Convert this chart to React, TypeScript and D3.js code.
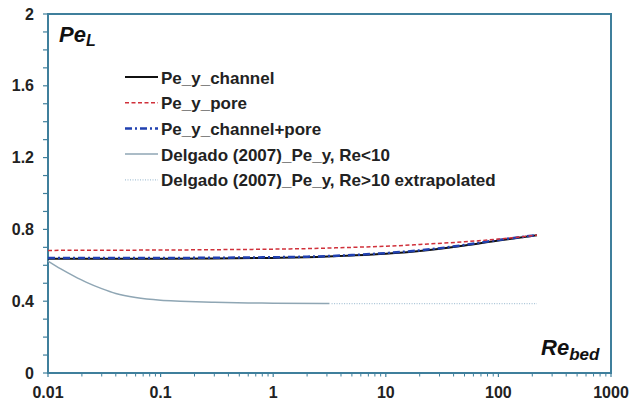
import React from "react";
import * as d3 from "d3";

const reChannel = [0.01, 0.03, 0.1, 0.3, 1, 2, 5, 10, 20, 50, 100, 220];
const peChannel = [0.637, 0.637, 0.637, 0.638, 0.641, 0.645, 0.655, 0.665, 0.68, 0.71, 0.738, 0.767];
const pePore = [0.683, 0.684, 0.685, 0.687, 0.69, 0.693, 0.7, 0.706, 0.716, 0.731, 0.746, 0.768];
const peChannelPore = [0.641, 0.641, 0.641, 0.642, 0.645, 0.648, 0.657, 0.668, 0.683, 0.713, 0.741, 0.768];

const reDelgado = [0.01, 0.013, 0.017, 0.022, 0.03, 0.04, 0.06, 0.1, 0.15, 0.3, 0.6, 1, 3.16];
const peDelgado = [0.624, 0.58, 0.54, 0.505, 0.47, 0.443, 0.42, 0.405, 0.4, 0.394, 0.39, 0.389, 0.387];
const reDelgadoExt = [3.3, 220];
const peDelgadoExt = [0.387, 0.387];

const yTicks = [0, 0.4, 0.8, 1.2, 1.6, 2];
const xTicks = [0.01, 0.1, 1, 10, 100, 1000];
const xTickLabels = ["0.01", "0.1", "1", "10", "100", "1000"];

const legendLabels = [
  "Pe_y_channel",
  "Pe_y_pore",
  "Pe_y_channel+pore",
  "Delgado (2007)_Pe_y, Re<10",
  "Delgado (2007)_Pe_y, Re>10 extrapolated",
];

const AXIS = "#3f7f9c";
const TEXT = "#222";

export default function App() {
  const L = 48, R = 611, T = 14, B = 373;
  const x = d3.scaleLog().domain([0.01, 1000]).range([L, R]);
  const y = d3.scaleLinear().domain([0, 2]).range([B, T]);
  const line = d3
    .line<[number, number]>()
    .x((d) => x(d[0]))
    .y((d) => y(d[1]))
    .curve(d3.curveMonotoneX);

  const zip = (a: number[], b: number[]) => a.map((v, i) => [v, b[i]] as [number, number]);

  const styles = [
    { stroke: "#111", width: 2, dash: undefined as string | undefined },
    { stroke: "#d0303a", width: 1.5, dash: "4,2.5" },
    { stroke: "#2040b0", width: 2.5, dash: "7,3,2,3" },
    { stroke: "#8fa6b4", width: 1.5, dash: undefined },
    { stroke: "#a9c4d6", width: 1.3, dash: "1,1.5" },
  ];

  const series = [
    zip(reChannel, peChannelPore),
    zip(reChannel, pePore),
    zip(reChannel, peChannel),
  ];

  const minorX: number[] = [];
  for (let e = -2; e < 3; e++) {
    for (let k = 2; k <= 9; k++) minorX.push(k * Math.pow(10, e));
  }
  const minorY = d3.range(0, 2.0001, 0.1);

  const font = "Arial, 'Liberation Sans', sans-serif";

  return (
    <svg width={631} height={406} style={{ position: "absolute", left: 0, top: 0, background: "#fff" }}>
      <rect x={0} y={0} width={631} height={406} fill="#fff" />
      {/* frame */}
      <rect x={L} y={T} width={R - L} height={B - T} fill="none" stroke={AXIS} strokeWidth={2} />
      {/* y ticks */}
      {minorY.map((v, i) => (
        <line key={"yt" + i} x1={L - 5} x2={L} y1={y(v)} y2={y(v)} stroke={AXIS} strokeWidth={1.2} />
      ))}
      {yTicks.map((v, i) => (
        <text key={"yl" + i} x={34} y={y(v) + 5.5} textAnchor="end" fontFamily={font} fontWeight="bold" fontSize={16} fill={TEXT}>
          {String(v)}
        </text>
      ))}
      {/* x ticks */}
      {xTicks.map((v, i) => (
        <line key={"xt" + i} x1={x(v)} x2={x(v)} y1={B} y2={B + 4} stroke={AXIS} strokeWidth={1.2} />
      ))}
      {minorX.map((v, i) => (
        <line key={"xm" + i} x1={x(v)} x2={x(v)} y1={B} y2={B + 3.5} stroke={AXIS} strokeWidth={1} />
      ))}
      {xTicks.map((v, i) => (
        <text key={"xl" + i} x={x(v)} y={397.5} textAnchor="middle" fontFamily={font} fontWeight="bold" fontSize={16} fill={TEXT}>
          {xTickLabels[i]}
        </text>
      ))}
      {/* Delgado */}
      <path d={line(zip(reDelgado, peDelgado)) || ""} fill="none" stroke={styles[3].stroke} strokeWidth={styles[3].width} />
      <path d={line(zip(reDelgadoExt, peDelgadoExt)) || ""} fill="none" stroke={styles[4].stroke} strokeWidth={styles[4].width} strokeDasharray={styles[4].dash} />
      {/* main series */}
      <path d={line(series[2]) || ""} fill="none" stroke={styles[0].stroke} strokeWidth={styles[0].width} />
      <path d={line(series[0]) || ""} fill="none" stroke={styles[2].stroke} strokeWidth={styles[2].width} strokeDasharray={styles[2].dash} />
      <path d={line(series[1]) || ""} fill="none" stroke={styles[1].stroke} strokeWidth={styles[1].width} strokeDasharray={styles[1].dash} />
      {/* legend */}
      {legendLabels.map((lab, i) => {
        const ly = 77 + i * 25.7;
        const s = styles[i];
        return (
          <g key={"lg" + i}>
            <line x1={125} x2={158} y1={ly} y2={ly} stroke={s.stroke} strokeWidth={s.width} strokeDasharray={s.dash} />
            <text x={161} y={ly + 6.5} fontFamily={font} fontWeight="bold" fontSize={17} fill={TEXT}>
              {lab}
            </text>
          </g>
        );
      })}
      {/* axis titles */}
      <text x={59} y={41.5} fontFamily={font} fontWeight="bold" fontStyle="italic" fontSize={22} fill="#111">
        Pe
        <tspan fontSize={16} dy={4}>L</tspan>
      </text>
      <text x={541} y={355} fontFamily={font} fontWeight="bold" fontStyle="italic" fontSize={22} fill="#111">
        Re
        <tspan fontSize={17} dy={5}>bed</tspan>
      </text>
    </svg>
  );
}
